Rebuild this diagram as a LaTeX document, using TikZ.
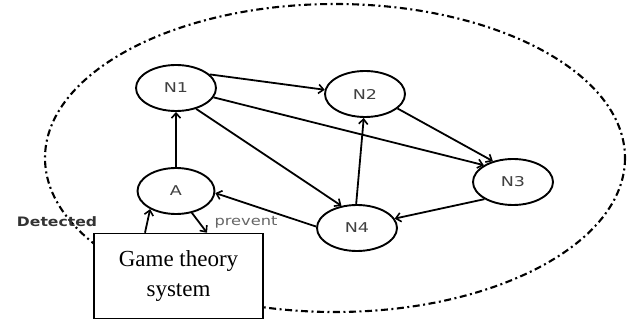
\documentclass[tikz,border=0pt]{standalone}
\usepackage{fontspec}
\setmainfont{Liberation Serif}
\newfontfamily\lblfont{DejaVu Sans}
\usetikzlibrary{shapes.geometric,arrows.meta,calc}
\begin{document}
\begin{tikzpicture}[x=1pt,y=-1pt,
  nd/.style={ellipse,draw,line width=1.9pt,minimum width=80pt,minimum height=46pt,inner sep=0pt,
    font=\lblfont\fontsize{13.5}{15}\selectfont,text=black!75},
  arr/.style={line width=1.8pt,-{Straight Barb[length=5pt,width=9pt,line width=1.6pt]}},
  lab/.style={font=\lblfont\fontsize{13}{15}\selectfont,inner sep=0pt}
]
\useasboundingbox (0,0) rectangle (634,320);
\draw[line width=2.1pt,dash pattern=on 7pt off 3.5pt on 2pt off 3.5pt] (335,158) ellipse [x radius=290, y radius=154];

\node[nd] (N1) at (176,88) {\scalebox{1.3}[1]{N1}};
\node[nd] (N2) at (365,94) {\scalebox{1.3}[1]{N2}};
\node[nd] (N3) at (513,182) {\scalebox{1.3}[1]{N3}};
\node[nd] (N4) at (357,228) {\scalebox{1.3}[1]{N4}};
\node[nd,minimum width=77pt] (A) at (176,191) {\scalebox{1.3}[1]{A}};

\node[draw,fill=white,line width=1.5pt,minimum width=169pt,minimum height=85pt,inner sep=0pt,
  align=center,font=\fontsize{23}{30}\selectfont] (gts) at (178.5,276) {Game theory\\system};

\draw[arr] (A.90) -- (N1.270);
\draw[arr] (N1.22) -- (N2.174);
\draw[arr] (N1.-14) -- (N3.150);
\draw[arr] (N1.-46) -- (N4.125);
\draw[arr] (N2.-24) -- (N3.134);
\draw[arr] (N4.92) -- (N2.267);
\draw[arr] (N3.211) -- (N4.14);
\draw[arr] (N4.178) -- (A.357);
\draw[arr] ([xshift=-33.5pt]gts.north) -- (A.215);
\draw[arr] (A.306) -- ([xshift=28.5pt]gts.north);

\node[lab,text=black!80,font=\lblfont\bfseries\fontsize{13}{15}\selectfont] (det) at (57,222) {\scalebox{1.2}[1]{Detected}};
\node[lab,text=black!60] (prev) at (246,222) {\scalebox{1.25}[1]{prevent}};
\end{tikzpicture}
\end{document}
